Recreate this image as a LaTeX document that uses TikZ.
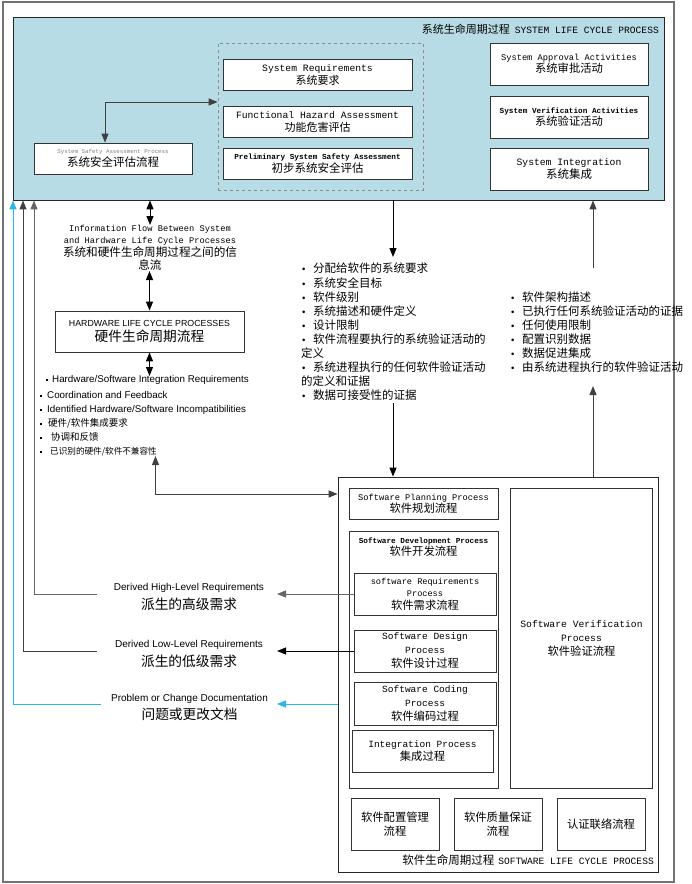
\documentclass[tikz,border=0pt]{standalone}
\usepackage{fontspec}
\setmainfont{Liberation Sans}
\newfontfamily\cjk{Noto Sans CJK SC}
\newfontfamily\mono{Liberation Mono}
\usetikzlibrary{arrows.meta,calc}
\newcommand{\fM}[1]{\mono\fontsize{#1}{12}\selectfont}
\newcommand{\fC}[1]{\cjk\fontsize{#1}{12}\selectfont}
\newcommand{\fS}[1]{\rmfamily\fontsize{#1}{12}\selectfont}
\newcommand{\lh}[1]{\fontsize{9}{#1}\selectfont}
\newcommand{\sqb}[1]{\makebox[#1][l]{\rule[0.25ex]{2.2pt}{2.2pt}}}
\newcommand{\bul}{\makebox[11pt][l]{\rmfamily\fontsize{9.5}{9.5}\selectfont •}}
\definecolor{sysblue}{RGB}{184,220,230}
\definecolor{linkblue}{RGB}{45,180,235}
\tikzset{
  wbox/.style={draw=black!80, line width=0.8pt, fill=white, align=center, inner sep=1pt},
  conn/.style={line width=1pt, draw=black!75},
  arr/.style={-{Triangle[length=9pt,width=7pt]}},
  darr/.style={{Triangle[length=9pt,width=7pt]}-{Triangle[length=9pt,width=7pt]}},
  lst/.style={anchor=base west, inner sep=0pt},
}
\begin{document}
\begin{tikzpicture}[x=1pt,y=-1pt]
\useasboundingbox (0,0) rectangle (692,884);
\draw[draw=black!55, line width=1.3pt] (3,2) rectangle (674,882);

% ---------- system life cycle ----------
\node[draw=black!85, line width=0.8pt, fill=sysblue, minimum width=651, minimum height=183, inner sep=0] (sys) at (338.5,108.5) {};
\node[anchor=east, inner sep=0] (systitle) at (659,29) {{\fC{11}系统生命周期过程}\hspace{5pt}{\fM{9.6}SYSTEM LIFE CYCLE PROCESS}};
\node[draw=black!45, dashed, line width=0.6pt, minimum width=205, minimum height=147, inner sep=0] (dsh) at (320.5,116.5) {};

\node[wbox, minimum width=189, minimum height=31, font=\lh{13}] (sreq) at (317.5,74.5) {{\fM{9.7}System Requirements}\\{\fC{11}系统要求}};
\node[wbox, minimum width=189, minimum height=31, font=\lh{13}] (fha) at (317.5,121.5) {{\fM{9.7}Functional Hazard Assessment}\\{\fC{11}功能危害评估}};
\node[wbox, minimum width=189, minimum height=31, font=\lh{13}] (pssa) at (317.5,163.5) {{\fM{7.7}\bfseries Preliminary System Safety Assessment}\\{\fC{11.5}初步系统安全评估}};
\node[wbox, minimum width=158, minimum height=31, font=\lh{13}] (ssa) at (113,158.5) {{\fM{5.8}\color{black!50}System Safety Assessment Process}\\{\fC{11.5}系统安全评估流程}};

\node[wbox, minimum width=158, minimum height=42, font=\lh{12.5}] (appr) at (569,64) {{\fM{8.7}System Approval Activities}\\{\fC{11.3}系统审批活动}};
\node[wbox, minimum width=158, minimum height=42, font=\lh{12.5}] (sver) at (569,117) {{\fM{7.7}\bfseries System Verification Activities}\\{\fC{11.3}系统验证活动}};
\node[wbox, minimum width=158, minimum height=42, font=\lh{13}] (sint) at (569,169) {{\fM{9.7}System Integration}\\{\fC{11.5}系统集成}};

\coordinate (ssaj) at (105,102);
\draw[conn, darr] (ssa.north -| ssaj) -- (ssaj) -- (dsh.west |- ssaj);

% ---------- hardware ----------
\coordinate (if1) at (150,225);
\draw[conn, draw=black, darr] (sys.south -| if1) -- (if1);
\node[align=center, font=\lh{12.8}, inner sep=0] (info) at (150,247.5) {{\fM{8.7}Information Flow Between System}\\{\fM{8.7}and Hardware Life Cycle Processes}\\{\fC{11.6}系统和硬件生命周期过程之间的信}\\{\fC{11.6}息流}};
\node[wbox, minimum width=189, minimum height=41, font=\lh{15}] (hw) at (149.5,331.5) {{\fS{8.8}HARDWARE LIFE CYCLE PROCESSES}\\{\fC{13.7}硬件生命周期流程}};
\coordinate (if2) at (149.5,271);
\draw[conn, draw=black, darr] (if2) -- (hw.north);
\coordinate (if3) at (149.5,376);
\draw[conn, draw=black, darr] (hw.south) -- (if3);

\node[lst] (l1) at (46,382.5) {\fS{9.8}\sqb{6pt}Hardware/Software Integration Requirements};
\node[lst] (l2) at (40,398.5) {\fS{9.8}\sqb{7pt}Coordination and Feedback};
\node[lst] (l3) at (40,412.5) {\fS{9.8}\sqb{7pt}Identified Hardware/Software Incompatibilities};
\node[lst] (l4) at (40,426.5) {\fC{9.5}\sqb{8pt}硬件/软件集成要求};
\node[lst] (l5) at (40,440) {\fC{9.5}\sqb{11pt}协调和反馈};
\node[lst] (l6) at (40,454) {\fC{8.6}\sqb{10pt}已识别的硬件/软件不兼容性};

% ---------- software life cycle ----------
\node[draw=black!85, line width=0.8pt, minimum width=320, minimum height=395, inner sep=0] (sw) at (498,674.5) {};
\node[anchor=east, inner sep=0] (swtitle) at (654,860) {{\fC{11.5}软件生命周期过程}\hspace{4pt}{\fM{9.6}SOFTWARE LIFE CYCLE PROCESS}};

\node[wbox, minimum width=149, minimum height=31, font=\lh{12}] (plan) at (423.5,503.5) {{\fM{8.7}Software Planning Process}\\{\fC{11.3}软件规划流程}};
\node[draw=black!80, line width=0.8pt, minimum width=149, minimum height=257, inner sep=0] (dev) at (423.5,659.5) {};
\node[anchor=north, align=center, font=\lh{11}, inner sep=0] (devlbl) at ([yshift=-7pt]dev.north) {{\fM{7.7}\bfseries Software Development Process}\\{\fC{11.3}软件开发流程}};
\node[wbox, minimum width=142, minimum height=42, font=\lh{12.5}] (swreq) at (425,594) {{\fM{8.6}software Requirements}\\{\fM{8.6}Process}\\{\fC{11.3}软件需求流程}};
\node[wbox, minimum width=142, minimum height=42, font=\lh{14}] (design) at (425,651) {{\fM{9.5}Software Design}\\{\fM{9.5}Process}\\{\fC{11.3}软件设计过程}};
\node[wbox, minimum width=142, minimum height=43, font=\lh{14}] (coding) at (425,703.5) {{\fM{9.5}Software Coding}\\{\fM{9.5}Process}\\{\fC{11.3}软件编码过程}};
\node[wbox, minimum width=141, minimum height=42, font=\lh{13}] (integ) at (422.5,751) {{\fM{9.5}Integration Process}\\{\fC{11.3}集成过程}};
\node[wbox, minimum width=142, minimum height=300, font=\lh{14}] (swver) at (581.5,638) {{\fM{9.7}Software Verification}\\{\fM{9.7}Process}\\{\fC{11.3}软件验证流程}};

\node[wbox, minimum width=88, minimum height=52, font=\lh{14}] (scm) at (395,824) {{\fC{11.3}软件配置管理}\\{\fC{11.3}流程}};
\node[wbox, minimum width=88, minimum height=52, font=\lh{14}] (sqa) at (498,824) {{\fC{11.3}软件质量保证}\\{\fC{11.3}流程}};
\node[wbox, minimum width=88, minimum height=52, font=\lh{14}] (cert) at (601,824) {{\fC{11.3}认证联络流程}};

% ---------- hw/sw link ----------
\coordinate (hs1) at (155.5,456);
\coordinate (hs2) at (155.5,494);
\draw[conn, darr] (hs1) -- (hs2) -- (sw.west |- hs2);

% ---------- system <-> software ----------
\coordinate (md1) at (393,257);
\draw[conn, draw=black, arr] (sys.south -| md1) -- (md1);
\coordinate (md2) at (393,403);
\draw[conn, draw=black, arr] (md2) -- (sw.north -| md2);
\coordinate (ru1) at (593,386);
\draw[conn, arr] (sw.north -| ru1) -- (ru1);
\coordinate (ru2) at (593,268);
\draw[conn, arr] (ru2) -- (sys.south -| ru2);

\node[lst] (m1) at (302,272.2) {\fC{11.5}\bul 分配给软件的系统要求};
\node[lst] (m2) at (302,287.2) {\fC{11.5}\bul 系统安全目标};
\node[lst] (m3) at (302,301.2) {\fC{11.5}\bul 软件级别};
\node[lst] (m4) at (302,315.2) {\fC{11.5}\bul 系统描述和硬件定义};
\node[lst] (m5) at (302,329.2) {\fC{11.5}\bul 设计限制};
\node[lst] (m6) at (302,343.2) {\fC{11.5}\bul 软件流程要执行的系统验证活动的};
\node[lst] (m7) at (301,357.2) {\fC{11.5}定义};
\node[lst] (m8) at (302,371.2) {\fC{11.5}\bul 系统进程执行的任何软件验证活动};
\node[lst] (m9) at (301,385.2) {\fC{11.5}的定义和证据};
\node[lst] (m10) at (302,399.2) {\fC{11.5}\bul 数据可接受性的证据};

\node[lst] (r1) at (511,301.2) {\fC{11.5}\bul 软件架构描述};
\node[lst] (r2) at (511,315.2) {\fC{11.5}\bul 已执行任何系统验证活动的证据};
\node[lst] (r3) at (511,329.2) {\fC{11.5}\bul 任何使用限制};
\node[lst] (r4) at (511,343.2) {\fC{11.5}\bul 配置识别数据};
\node[lst] (r5) at (511,357.2) {\fC{11.5}\bul 数据促进集成};
\node[lst] (r6) at (511,371.2) {\fC{11.5}\bul 由系统进程执行的软件验证活动};

% ---------- derived requirements / problem reports ----------
\node[align=center, font=\lh{18.5}, inner sep=0] (dhl) at (189,597) {{\fS{10}Derived High-Level Requirements}\\{\fC{13.7}派生的高级需求}};
\node[align=center, font=\lh{18.5}, inner sep=0] (dll) at (189,654) {{\fS{10}Derived Low-Level Requirements}\\{\fC{13.7}派生的低级需求}};
\node[align=center, font=\lh{18.5}, inner sep=0] (pcd) at (189.5,707.5) {{\fS{10}Problem or Change Documentation}\\{\fC{13.7}问题或更改文档}};

\coordinate (dhB) at (277,594);
\coordinate (dhA) at (97,594);
\coordinate (vH) at (34,594);
\draw[conn, draw=black!60, arr] (swreq.west) -- (dhB);
\draw[conn, draw=black!60, arr] (dhA) -- (vH) -- (sys.south -| vH);

\coordinate (dlB) at (277,651);
\coordinate (dlA) at (97,651);
\coordinate (vL) at (23,651);
\draw[conn, draw=black, arr] (design.west) -- (dlB);
\draw[conn, draw=black!75, arr] (dlA) -- (vL) -- (sys.south -| vL);

\coordinate (pcB) at (277,704);
\coordinate (pcA) at (101,704);
\coordinate (vP) at (13,704);
\draw[conn, draw=linkblue, arr] (sw.west |- pcB) -- (pcB);
\draw[conn, draw=linkblue, arr] (pcA) -- (vP) -- (sys.south -| vP);
\end{tikzpicture}
\end{document}
